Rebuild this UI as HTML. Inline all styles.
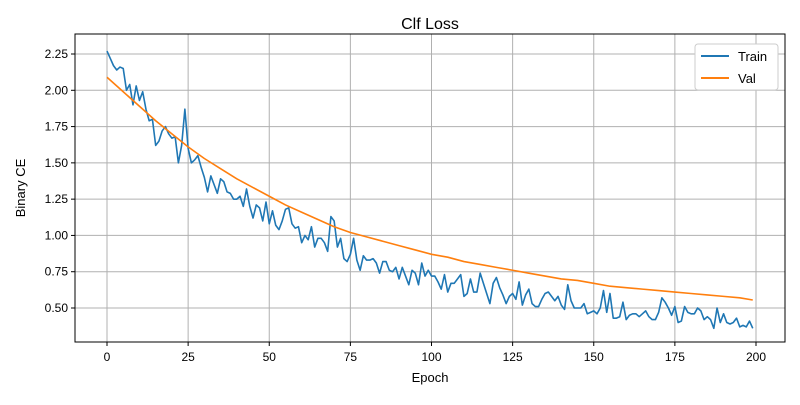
<!DOCTYPE html>
<html><head><meta charset="utf-8"><style>
body{margin:0;background:#fff;}
svg text{font-family:"Liberation Sans","DejaVu Sans",sans-serif;fill:#000;}
</style></head><body>
<svg id="chart" width="800" height="400" xmlns="http://www.w3.org/2000/svg">
<rect width="800" height="400" fill="#fff"/>
<g id="grid"></g>
<g id="series"></g>
<rect x="75" y="34" width="710" height="308" fill="none" stroke="#000" stroke-width="1"/>
<g id="ticks"></g>
<text x="430" y="29" font-size="16" text-anchor="middle">Clf Loss</text>
<text x="430" y="382" font-size="13" text-anchor="middle">Epoch</text>
<text transform="translate(25,188) rotate(-90)" font-size="13" text-anchor="middle">Binary CE</text>
<g>
<rect x="695" y="44" width="83" height="46" fill="#fff" stroke="#ccc" rx="3"/>
<line x1="701" y1="56" x2="729" y2="56" stroke="#1f77b4" stroke-width="2"/>
<text x="738" y="61" font-size="13">Train</text>
<line x1="701" y1="78" x2="729" y2="78" stroke="#ff7f0e" stroke-width="2"/>
<text x="738" y="83" font-size="13">Val</text>
</g>
</svg>
<script>
const xTicks=[0,25,50,75,100,125,150,175,200];
const yTicks=[0.5,0.75,1.0,1.25,1.5,1.75,2.0,2.25];
const yTickLabels=["0.50","0.75","1.00","1.25","1.50","1.75","2.00","2.25"];
const train=[2.27,2.22,2.17,2.14,2.16,2.15,2.0,2.04,1.9,2.03,1.93,1.99,1.87,1.79,1.80,1.62,1.65,1.72,1.75,1.70,1.67,1.68,1.50,1.62,1.87,1.60,1.50,1.52,1.55,1.47,1.40,1.30,1.41,1.35,1.29,1.39,1.37,1.30,1.29,1.25,1.25,1.27,1.20,1.32,1.20,1.12,1.21,1.19,1.10,1.23,1.08,1.17,1.07,1.04,1.10,1.18,1.19,1.08,1.05,1.06,0.95,1.00,0.97,1.06,0.92,0.98,0.98,0.95,0.89,1.13,1.10,0.92,0.98,0.84,0.82,0.87,0.98,0.83,0.76,0.86,0.83,0.83,0.84,0.81,0.74,0.82,0.82,0.76,0.75,0.78,0.70,0.78,0.72,0.66,0.76,0.74,0.66,0.81,0.72,0.76,0.72,0.72,0.68,0.63,0.73,0.61,0.67,0.67,0.70,0.73,0.58,0.60,0.70,0.61,0.61,0.74,0.67,0.60,0.53,0.67,0.71,0.64,0.59,0.53,0.58,0.60,0.56,0.68,0.52,0.59,0.63,0.53,0.51,0.51,0.56,0.60,0.61,0.58,0.55,0.58,0.52,0.49,0.66,0.55,0.50,0.50,0.50,0.53,0.46,0.47,0.48,0.46,0.50,0.62,0.47,0.60,0.43,0.43,0.44,0.54,0.42,0.45,0.46,0.46,0.44,0.46,0.48,0.44,0.42,0.42,0.47,0.57,0.54,0.50,0.45,0.51,0.40,0.41,0.51,0.47,0.46,0.46,0.50,0.48,0.42,0.44,0.42,0.36,0.50,0.40,0.46,0.40,0.39,0.40,0.43,0.37,0.38,0.37,0.41,0.36];
const valEpochs=[0,5,10,15,20,25,30,35,40,45,50,55,60,65,70,75,80,85,90,95,100,105,110,115,120,125,130,135,140,145,150,155,160,165,170,175,180,185,190,195,199];
const val=[2.09,1.99,1.89,1.79,1.70,1.61,1.53,1.46,1.39,1.33,1.27,1.21,1.16,1.11,1.06,1.02,0.99,0.96,0.93,0.90,0.87,0.85,0.82,0.80,0.78,0.76,0.74,0.72,0.70,0.69,0.67,0.65,0.64,0.63,0.62,0.61,0.60,0.59,0.58,0.57,0.555];
const NS="http://www.w3.org/2000/svg";
function xs(e){return 107+e*3.245;}
function ys(v){return 308-(v-0.5)*145.14;}
function mk(tag,attrs,parent){const el=document.createElementNS(NS,tag);for(const k in attrs)el.setAttribute(k,attrs[k]);parent.appendChild(el);return el;}
const grid=document.getElementById('grid'),ticks=document.getElementById('ticks'),series=document.getElementById('series');
xTicks.forEach(t=>{const x=xs(t);
 const g=mk('line',{x1:x,x2:x,y1:34,y2:342,stroke:'#b0b0b0','stroke-width':1},grid);
 
 
 mk('line',{x1:x,x2:x,y1:342,y2:346,stroke:'#000'},ticks);
 const tx=mk('text',{x:x,y:361,'font-size':12,'text-anchor':'middle'},ticks);tx.textContent=t;
 
 });
yTicks.forEach((t,i)=>{const y=ys(t);
 const g=mk('line',{x1:75,x2:785,y1:y,y2:y,stroke:'#b0b0b0','stroke-width':1},grid);
 
 
 mk('line',{x1:71,x2:75,y1:y,y2:y,stroke:'#000'},ticks);
 const tx=mk('text',{x:68,y:y+4,'font-size':12,'text-anchor':'end'},ticks);tx.textContent=yTickLabels[i];
 
 });
const tp=mk('polyline',{points:train.map((v,i)=>xs(i)+','+ys(v)).join(' '),fill:'none',stroke:'#1f77b4','stroke-width':1.6,'stroke-linejoin':'round'},series);


const vp=mk('polyline',{points:val.map((v,i)=>xs(valEpochs[i])+','+ys(v)).join(' '),fill:'none',stroke:'#ff7f0e','stroke-width':1.6,'stroke-linejoin':'round'},series);


</script>
</body></html>
